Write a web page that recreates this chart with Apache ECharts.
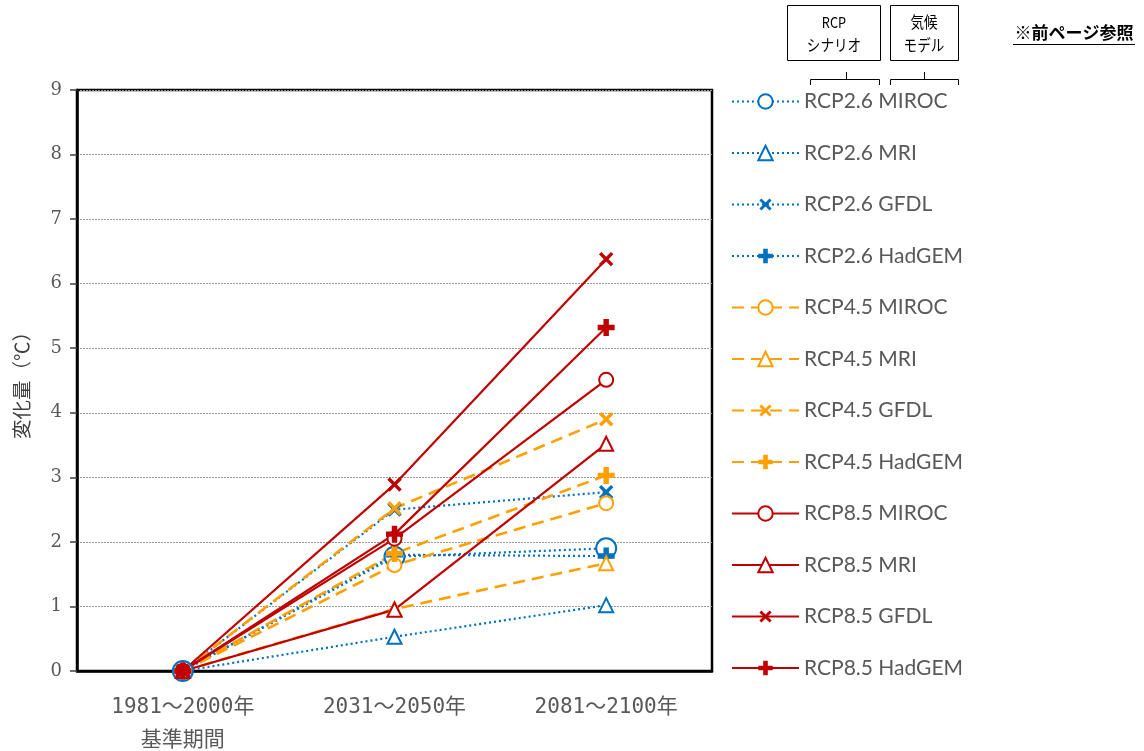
<!DOCTYPE html>
<html>
<head>
<meta charset="utf-8">
<script src="https://cdn.jsdelivr.net/npm/echarts@6/dist/echarts.min.js"></script>
<style>
  html, body { margin: 0; padding: 0; background: #fff; }
  #chart { width: 1144px; height: 751px; }
</style>
</head>
<body>
<div id="chart"></div>
<script>
// Periods on the x axis
const periods = ['1981～2000年', '2031～2050年', '2081～2100年'];
const baseLabel = '基準期間';
const yTicks = [0, 1, 2, 3, 4, 5, 6, 7, 8, 9];

// Temperature change (℃) per scenario and climate model
const rcp26Miroc  = [0, 1.77, 1.90];
const rcp26Mri    = [0, 0.53, 1.02];
const rcp26Gfdl   = [0, 2.50, 2.77];
const rcp26Hadgem = [0, 1.80, 1.78];
const rcp45Miroc  = [0, 1.64, 2.60];
const rcp45Mri    = [0, 0.96, 1.67];
const rcp45Gfdl   = [0, 2.52, 3.90];
const rcp45Hadgem = [0, 1.82, 3.03];
const rcp85Miroc  = [0, 2.05, 4.51];
const rcp85Mri    = [0, 0.95, 3.52];
const rcp85Gfdl   = [0, 2.89, 6.38];
const rcp85Hadgem = [0, 2.12, 5.32];

const BLUE = '#0070C0', ORANGE = '#FFA000', RED = '#C00000';
const PLUS = 'path://M4,0H6V4H10V6H6V10H4V6H0V4H4Z';
const PLUS_BOLD = 'path://M3.4,0H6.6V3.4H10V6.6H6.6V10H3.4V6.6H0V3.4H3.4Z';

const scenarios = [
  { name: 'RCP2.6', color: BLUE, line: { type: [2, 3], width: 2.2 } },
  { name: 'RCP4.5', color: ORANGE, line: { type: [12, 7], width: 2.6 } },
  { name: 'RCP8.5', color: RED, line: { type: 'solid', width: 2.2 } }
];
const models = [
  { name: 'MIROC', symbol: 'emptyCircle', rotate: 0 },
  { name: 'MRI', symbol: 'emptyTriangle', rotate: 0 },
  { name: 'GFDL', symbol: PLUS, rotate: 45 },
  { name: 'HadGEM', symbol: PLUS_BOLD, rotate: 0 }
];
const values = [
  [rcp26Miroc, rcp26Mri, rcp26Gfdl, rcp26Hadgem],
  [rcp45Miroc, rcp45Mri, rcp45Gfdl, rcp45Hadgem],
  [rcp85Miroc, rcp85Mri, rcp85Gfdl, rcp85Hadgem]
];

const series = [];
scenarios.forEach((sc, i) => {
  models.forEach((m, j) => {
    const empty = m.symbol.startsWith('empty');
    let size = empty ? 14 : 17;
    if (i === 0 && j === 0) size = 20;
    series.push({
      name: sc.name + ' ' + m.name,
      type: 'line',
      data: values[i][j],
      symbol: m.symbol,
      symbolRotate: m.rotate,
      symbolSize: size,
      showAllSymbol: true,
      lineStyle: { color: sc.color, width: sc.line.width, type: sc.line.type },
      itemStyle: {
        color: sc.color,
        borderColor: sc.color,
        borderWidth: empty ? 2.8 : 0
      },
      emphasis: { disabled: true },
      animation: false
    });
  });
});

const chart = echarts.init(document.getElementById('chart'), null, { renderer: 'canvas' });
chart.setOption({
  backgroundColor: '#fff',
  animation: false,
  grid: {
    left: 77, top: 90, width: 635, height: 581,
    outerBoundsMode: 'none',
    containLabel: false,
    show: true, borderColor: '#000', borderWidth: 2.5, backgroundColor: 'transparent'
  },
  legend: {
    orient: 'vertical',
    left: 726,
    top: 86,
    itemWidth: 67,
    itemHeight: 18,
    itemGap: 30.5,
    selectedMode: false,
    textStyle: { fontFamily: 'Lato', fontSize: 21, color: '#595959' },
    data: series.map(s => s.name)
  },
  xAxis: {
    type: 'category',
    data: periods,
    boundaryGap: true,
    axisLine: { lineStyle: { color: '#000', width: 2.5 } },
    axisTick: { show: false },
    axisLabel: {
      margin: 20,
      fontFamily: 'DejaVu Sans Mono, Noto Sans CJK JP',
      fontSize: 21,
      color: '#595959',
      lineHeight: 33,
      formatter: (v, idx) => idx === 0 ? v + '\n' + baseLabel : v
    },
    splitLine: { show: false }
  },
  yAxis: {
    type: 'value',
    min: yTicks[0],
    max: yTicks[yTicks.length - 1],
    interval: 1,
    name: '変化量（℃）',
    nameLocation: 'middle',
    nameRotate: 90,
    nameGap: 46,
    nameTextStyle: { fontFamily: 'Noto Sans CJK JP', fontSize: 19.5, color: '#404040' },
    axisLine: { show: true, lineStyle: { color: '#000', width: 2.5 } },
    axisTick: { show: true, length: 7, lineStyle: { color: '#404040', width: 1.5 } },
    axisLabel: {
      margin: 15,
      fontFamily: 'DejaVu Serif',
      fontSize: 18,
      color: '#595959'
    },
    splitLine: { show: true, lineStyle: { color: '#9a9a9a', width: 1, type: [2, 1] } }
  },
  graphic: [
    { type: 'rect', shape: { x: 787.5, y: 5.5, width: 93, height: 55 },
      style: { fill: '#fff', stroke: '#000', lineWidth: 1 } },
    { type: 'rect', shape: { x: 890.5, y: 5.5, width: 68, height: 55 },
      style: { fill: '#fff', stroke: '#000', lineWidth: 1 } },
    { type: 'text', x: 834, y: 22, scaleX: 0.85, style: { text: 'RCP', fontFamily: 'Noto Sans CJK JP', fontSize: 15, fill: '#000', align: 'center', verticalAlign: 'middle' } },
    { type: 'text', x: 834, y: 45, scaleX: 0.85, style: { text: 'シナリオ', fontFamily: 'Noto Sans CJK JP', fontSize: 16, fill: '#000', align: 'center', verticalAlign: 'middle' } },
    { type: 'text', x: 924, y: 22, scaleX: 0.85, style: { text: '気候', fontFamily: 'Noto Sans CJK JP', fontSize: 16, fill: '#000', align: 'center', verticalAlign: 'middle' } },
    { type: 'text', x: 924, y: 45, scaleX: 0.85, style: { text: 'モデル', fontFamily: 'Noto Sans CJK JP', fontSize: 16, fill: '#000', align: 'center', verticalAlign: 'middle' } },
    { type: 'polyline', shape: { points: [[810.5, 85], [810.5, 79.5], [879.5, 79.5], [879.5, 85]] },
      style: { stroke: '#000', lineWidth: 1, fill: null } },
    { type: 'line', shape: { x1: 846.5, y1: 72, x2: 846.5, y2: 79.5 }, style: { stroke: '#000', lineWidth: 1 } },
    { type: 'polyline', shape: { points: [[890.5, 85], [890.5, 79.5], [958.5, 79.5], [958.5, 85]] },
      style: { stroke: '#000', lineWidth: 1, fill: null } },
    { type: 'line', shape: { x1: 924.5, y1: 72, x2: 924.5, y2: 79.5 }, style: { stroke: '#000', lineWidth: 1 } },
    { type: 'text', x: 1074, y: 33, style: { text: '※前ページ参照', fontFamily: 'Noto Sans CJK JP', fontSize: 17, fontWeight: 'bold', fill: '#000', align: 'center', verticalAlign: 'middle' } },
    { type: 'line', shape: { x1: 1013, y1: 44.5, x2: 1135, y2: 44.5 }, style: { stroke: '#000', lineWidth: 1 } }
  ],
  series: series
});
</script>
</body>
</html>
